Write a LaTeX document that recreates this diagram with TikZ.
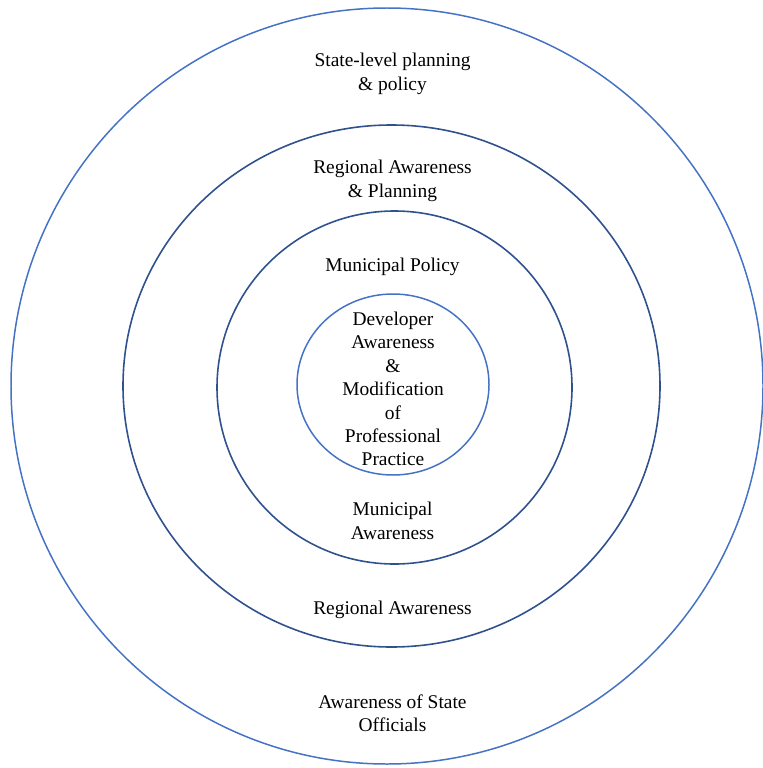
\documentclass[tikz,border=0pt]{standalone}
\usepackage{fontspec}
\setmainfont{Liberation Serif}
\definecolor{ringlight}{RGB}{68,114,196}
\definecolor{ringdark}{RGB}{47,82,143}
\begin{document}
\begin{tikzpicture}[x=1bp,y=-1bp,
  ringA/.style={draw=ringlight,line width=1.5pt},
  ringB/.style={draw=ringdark,line width=1.6pt},
  lbl/.style={align=center,inner sep=0pt,font=\fontsize{19.5}{23.5}\selectfont}]
\useasboundingbox (0,0) rectangle (763,768);
\draw[ringA] (387,386) ellipse [x radius=376, y radius=378];
\draw[ringB] (391.5,386) ellipse [x radius=268.5, y radius=261];
\draw[ringB] (394.5,387.5) ellipse [x radius=177.5, y radius=176.5];
\draw[ringA] (393,384.5) ellipse [x radius=96, y radius=90.5];
\node[lbl] (state) at (392.5,74) {State-level planning\\\& policy};
\node[lbl] (regplan) at (392.5,181) {Regional Awareness\\\& Planning};
\node[lbl] (munpol) at (392.5,266.5) {Municipal Policy};
\node[lbl] (dev) at (393,389) {Developer\\Awareness\\\&\\Modification\\of\\Professional\\Practice};
\node[lbl] (munaw) at (392.5,521) {Municipal\\Awareness};
\node[lbl] (regaw) at (392.5,609.5) {Regional Awareness};
\node[lbl] (stateaw) at (392.5,713) {Awareness of State\\Officials};
\end{tikzpicture}
\end{document}
